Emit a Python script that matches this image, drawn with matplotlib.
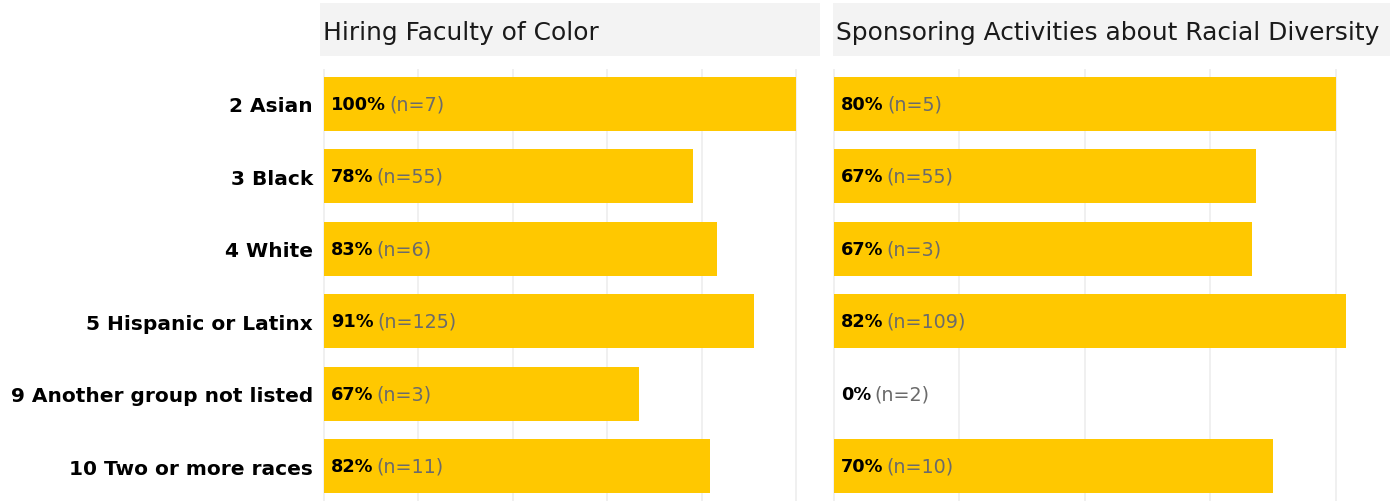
import matplotlib
matplotlib.use("Agg")
import matplotlib.pyplot as plt
from matplotlib.patches import Rectangle

# ---- data ----
categories = ["2 Asian", "3 Black", "4 White", "5 Hispanic or Latinx",
              "9 Another group not listed", "10 Two or more races"]
panel_titles = ["Hiring Faculty of Color", "Sponsoring Activities about Racial Diversity"]
hiring_share = [1.00, 0.782, 0.833, 0.912, 0.667, 0.818]
hiring_n = [7, 55, 6, 125, 3, 11]
sponsor_share = [0.80, 0.673, 0.667, 0.817, 0.0, 0.70]
sponsor_n = [5, 55, 3, 109, 2, 10]
grid_ticks = [0.0, 0.2, 0.4, 0.6, 0.8, 1.0]

W, H = 1390, 502
fig = plt.figure(figsize=(W / 100, H / 100), dpi=100)
plt.rcParams['font.family'] = ['DejaVu Sans']

BAR = "#FFC800"
STRIP = "#F3F3F3"
GRID = "#EDEDED"


def px_axes(x0, x1, y0, y1):
    return fig.add_axes([x0 / W, 1 - y1 / H, (x1 - x0) / W, (y1 - y0) / H])


def draw_panel(x0, x1, xlim, shares, ns, title, show_labels):
    # strip
    sax = px_axes(x0, x1, 4, 57)
    sax.set_axis_off()
    sax.add_patch(Rectangle((0, 0), 1, 1, transform=sax.transAxes,
                            facecolor=STRIP, edgecolor="none"))
    sax.text(3 / (x1 - x0), 0.46, title, transform=sax.transAxes,
             ha="left", va="center", fontsize=17.9, color="#1a1a1a")
    # panel
    ax = px_axes(x0, x1, 70, H)
    ypos = list(range(len(categories)))
    ax.barh(ypos, shares, height=0.75, color=BAR, zorder=2)
    ax.set_xlim(*xlim)
    ax.set_ylim(len(categories) - 0.52, -0.48)
    ax.set_xticks([t for t in grid_ticks if t <= xlim[1]])
    ax.xaxis.grid(True, color=GRID, linewidth=1.2, zorder=0)
    ax.set_axisbelow(True)
    ax.tick_params(axis="x", length=0, labelbottom=False)
    for s in ax.spines.values():
        s.set_visible(False)
    ax.set_yticks(ypos)
    if show_labels:
        ax.set_yticklabels(categories, fontweight="bold", fontsize=14.5)
        ax.tick_params(axis="y", length=0, pad=5)
    else:
        ax.tick_params(axis="y", length=0, labelleft=False)
    for y, v, n in zip(ypos, shares, ns):
        t1 = ax.annotate(f"{round(v * 100):.0f}%", xy=(0, y), xytext=(5, 0),
                         textcoords="offset points", ha="left", va="center",
                         fontsize=12.8, fontweight="bold", color="#000000", zorder=3)
        ax.annotate(f"(n={n})", xy=(1, 0.5), xycoords=t1, xytext=(2.4, 0),
                    textcoords="offset points", ha="left", va="center",
                    fontsize=13.8, color="#6b6b6b", zorder=3)
    return ax


draw_panel(320, 820, (-4 / 472, 496 / 472), hiring_share, hiring_n, panel_titles[0], True)
draw_panel(833, 1390, (-1 / 627, 556 / 627), sponsor_share, sponsor_n, panel_titles[1], False)

fig.savefig("out.png", dpi=100)
